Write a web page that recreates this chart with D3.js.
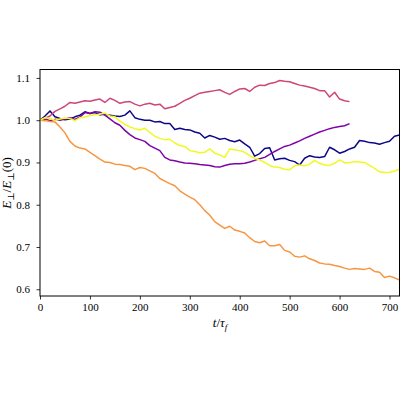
<!DOCTYPE html>
<html>
<head>
<meta charset="utf-8">
<script src="https://cdn.jsdelivr.net/npm/d3@7"></script>
<style>
  body { margin: 0; background: #fff; }
  svg { display: block; }
</style>
</head>
<body>
<script>
// time step between samples (units of tau_f)
const step = 10;

// E_perp / E_perp(0), one value every 10 tau_f
const blueVals = [1.000, 1.010, 1.022, 1.008, 1.004, 1.001, 1.003, 1.008, 1.012, 1.020,
  1.016, 1.018, 1.013, 1.014, 1.012, 1.010, 1.009, 1.012, 1.022, 1.006,
  1.002, 1.000, 1.000, 0.996, 0.997, 0.992, 0.992, 0.978, 0.981, 0.978,
  0.977, 0.972, 0.969, 0.958, 0.964, 0.960, 0.955, 0.957, 0.952, 0.949,
  0.953, 0.944, 0.936, 0.915, 0.921, 0.933, 0.935, 0.906, 0.909, 0.910,
  0.905, 0.902, 0.894, 0.910, 0.916, 0.913, 0.912, 0.914, 0.936, 0.930,
  0.922, 0.926, 0.932, 0.936, 0.952, 0.950, 0.947, 0.946, 0.943, 0.947,
  0.950, 0.962, 0.965];

const purpleVals = [1.000, 1.003, 0.999, 1.002, 1.000, 1.003, 1.006, 1.002, 1.008, 1.018,
  1.016, 1.020, 1.019, 1.012, 1.003, 0.994, 0.988, 0.976, 0.966, 0.958,
  0.954, 0.950, 0.940, 0.934, 0.928, 0.912, 0.906, 0.904, 0.901, 0.899,
  0.898, 0.897, 0.895, 0.894, 0.893, 0.890, 0.889, 0.893, 0.896, 0.897,
  0.897, 0.898, 0.901, 0.905, 0.909, 0.912, 0.919, 0.926, 0.932, 0.938,
  0.941, 0.946, 0.951, 0.957, 0.962, 0.967, 0.972, 0.976, 0.980, 0.983,
  0.985, 0.987, 0.992];

const pinkVals = [1.000, 1.004, 1.010, 1.021, 1.027, 1.033, 1.042, 1.040, 1.043, 1.046,
  1.045, 1.048, 1.050, 1.042, 1.052, 1.047, 1.040, 1.043, 1.044, 1.038,
  1.034, 1.038, 1.040, 1.036, 1.038, 1.027, 1.030, 1.033, 1.040, 1.047,
  1.052, 1.058, 1.064, 1.066, 1.068, 1.070, 1.072, 1.066, 1.061, 1.068,
  1.074, 1.075, 1.068, 1.078, 1.083, 1.082, 1.087, 1.089, 1.094, 1.092,
  1.091, 1.087, 1.083, 1.081, 1.078, 1.075, 1.070, 1.070, 1.055, 1.066,
  1.050, 1.046, 1.044];

const orangeVals = [1.000, 0.999, 0.997, 0.996, 0.984, 0.970, 0.950, 0.939, 0.934, 0.932,
  0.924, 0.916, 0.908, 0.901, 0.900, 0.896, 0.895, 0.893, 0.891, 0.883,
  0.888, 0.886, 0.880, 0.874, 0.862, 0.856, 0.850, 0.845, 0.833, 0.825,
  0.818, 0.812, 0.800, 0.786, 0.775, 0.760, 0.752, 0.744, 0.749, 0.740,
  0.737, 0.733, 0.722, 0.713, 0.710, 0.714, 0.703, 0.703, 0.706, 0.692,
  0.688, 0.678, 0.676, 0.679, 0.672, 0.668, 0.662, 0.660, 0.659, 0.656,
  0.654, 0.650, 0.647, 0.649, 0.648, 0.647, 0.650, 0.642, 0.640, 0.628,
  0.631, 0.627, 0.622];

const yellowVals = [1.000, 1.006, 1.004, 1.000, 1.003, 1.005, 1.004, 0.999, 1.006, 1.008,
  1.011, 1.013, 1.014, 1.017, 1.010, 1.008, 0.998, 0.990, 0.984, 0.980,
  0.977, 0.981, 0.971, 0.962, 0.957, 0.954, 0.955, 0.946, 0.940, 0.938,
  0.928, 0.926, 0.923, 0.924, 0.932, 0.922, 0.918, 0.912, 0.932, 0.930,
  0.928, 0.924, 0.916, 0.910, 0.906, 0.900, 0.893, 0.889, 0.888, 0.884,
  0.883, 0.892, 0.894, 0.892, 0.896, 0.905, 0.898, 0.894, 0.893, 0.898,
  0.906, 0.899, 0.900, 0.902, 0.901, 0.900, 0.893, 0.886, 0.878, 0.876,
  0.877, 0.880, 0.884];

const seriesList = [
  { name: "blue", values: blueVals, color: "#0d0887" },
  { name: "purple", values: purpleVals, color: "#7e03a8" },
  { name: "pink", values: pinkVals, color: "#cc4778" },
  { name: "orange", values: orangeVals, color: "#f89540" },
  { name: "yellow", values: yellowVals, color: "#f0f921" }
];

const xTicks = [0, 100, 200, 300, 400, 500, 600, 700];
const yTicks = [0.6, 0.7, 0.8, 0.9, 1.0, 1.1];

const serifFont = "Liberation Serif, Times New Roman, Times, DejaVu Serif, serif";

const width = 400;
const height = 400;
const margin = { left: 40, right: 0.5, top: 69.5, bottom: 104 };

const svg = d3.select("body")
  .append("svg")
  .attr("width", width)
  .attr("height", height)
  .attr("font-family", serifFont);

const x = d3.scaleLinear()
  .domain([0, 720])
  .range([margin.left, width - margin.right]);

const y = d3.scaleLinear()
  .domain([0.584, 1.12])
  .range([height - margin.bottom, margin.top]);

const line = d3.line()
  .x((d, i) => x(i * step))
  .y((d) => y(d));

// clip lines to the axes box
svg.append("clipPath")
  .attr("id", "plot-clip")
  .append("rect")
  .attr("x", x(0))
  .attr("y", y(1.12))
  .attr("width", x(720) - x(0))
  .attr("height", y(0.584) - y(1.12));

svg.append("g")
  .attr("clip-path", "url(#plot-clip)")
  .selectAll(".series")
  .data(seriesList)
  .join("path")
  .attr("class", "series")
  .attr("d", (d) => line(d.values))
  .attr("fill", "none")
  .attr("stroke", (d) => d.color)
  .attr("stroke-width", 1.5)
  .attr("stroke-linejoin", "round");

// axes
const xAxis = d3.axisBottom(x)
  .tickValues(xTicks)
  .tickFormat(d3.format("d"))
  .tickSize(3.5)
  .tickPadding(3.5);

const yAxis = d3.axisLeft(y)
  .tickValues(yTicks)
  .tickFormat(d3.format(".1f"))
  .tickSize(3.5)
  .tickPadding(6.5);

const gx = svg.append("g")
  .attr("transform", `translate(0,${y(0.584)})`)
  .call(xAxis);

const gy = svg.append("g")
  .attr("transform", `translate(${x(0)},0)`)
  .call(yAxis);

[gx, gy].forEach((g) => {
  g.attr("font-family", serifFont).attr("font-size", 11);
  g.select(".domain").remove();
  g.selectAll("line").attr("stroke", "#000").attr("stroke-width", 0.8);
  g.selectAll("text").attr("fill", "#000");
});

// frame
svg.append("rect")
  .attr("x", x(0))
  .attr("y", y(1.12))
  .attr("width", x(720) - x(0))
  .attr("height", y(0.584) - y(1.12))
  .attr("fill", "none")
  .attr("stroke", "#000")
  .attr("stroke-width", 1);

// x label: t / tau_f
const xl = svg.append("text")
  .attr("x", 220)
  .attr("y", 327)
  .attr("text-anchor", "middle")
  .attr("font-size", 13);
xl.append("tspan").attr("font-style", "italic").text("t");
xl.append("tspan").text("/");
xl.append("tspan").attr("font-style", "italic").text("τ");
xl.append("tspan").attr("font-style", "italic").attr("font-size", 9).attr("dy", 3).text("f");

// y label: E_perp / E_perp(0)
const yl = svg.append("text")
  .attr("transform", "translate(11,183) rotate(-90)")
  .attr("text-anchor", "middle")
  .attr("font-size", 13);
yl.append("tspan").attr("font-style", "italic").text("E");
yl.append("tspan").attr("font-size", 9).attr("dy", 2.5).text("⊥");
yl.append("tspan").attr("dy", -2.5).text("/");
yl.append("tspan").attr("font-style", "italic").text("E");
yl.append("tspan").attr("font-size", 9).attr("dy", 2.5).text("⊥");
yl.append("tspan").attr("dy", -2.5).text("(0)");
</script>
</body>
</html>
